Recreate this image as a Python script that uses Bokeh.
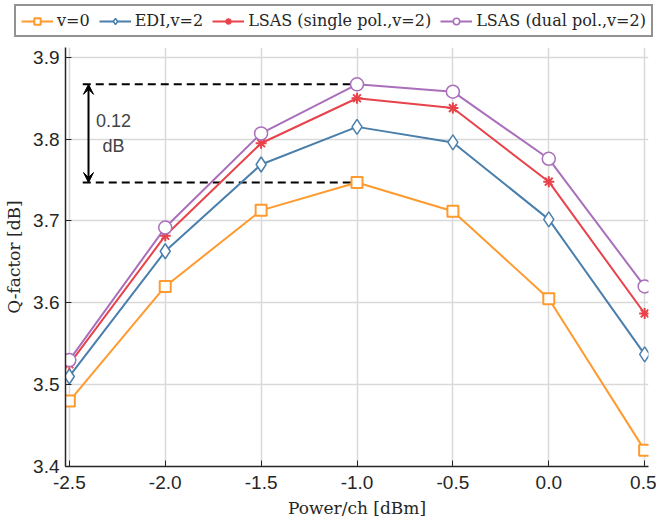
from bokeh.plotting import figure
from bokeh.layouts import column
from bokeh.models import Legend, LegendItem, Arrow, VeeHead, Range1d, FixedTicker, Label, CustomJSTickFormatter
from bokeh.embed import file_html
from bokeh.resources import INLINE

power = [-2.5, -2.0, -1.5, -1.0, -0.5, 0.0, 0.5]
q_v0 = [3.480, 3.620, 3.713, 3.747, 3.712, 3.605, 3.420]
q_edi = [3.510, 3.663, 3.769, 3.815, 3.796, 3.702, 3.537]
q_single = [3.525, 3.682, 3.795, 3.850, 3.838, 3.748, 3.587]
q_dual = [3.530, 3.692, 3.807, 3.867, 3.858, 3.776, 3.620]
x_ticks = [-2.5, -2.0, -1.5, -1.0, -0.5, 0.0, 0.5]
y_ticks = [3.4, 3.5, 3.6, 3.7, 3.8, 3.9]
labels = ["v=0", "EDI,v=2", "LSAS (single pol.,v=2)", "LSAS (dual pol.,v=2)"]

c_orange = "#ff9a2e"
c_blue = "#4a7fac"
c_red = "#e8424a"
c_purple = "#aa6fbb"

styles = [
    dict(series=q_v0, color=c_orange, marker="square", size=11, lw=2),
    dict(series=q_edi, color=c_blue, marker="diamond", size=15, lw=1.5),
    dict(series=q_single, color=c_red, marker="asterisk", size=11, lw=2),
    dict(series=q_dual, color=c_purple, marker="circle", size=13, lw=1.5),
]


def draw(fig):
    out = []
    for st in styles:
        ln = fig.line(power, st["series"], line_color=st["color"], line_width=2)
        mk = fig.scatter(power, st["series"], marker=st["marker"], size=st["size"],
                         line_color=st["color"], fill_color="white", line_width=st["lw"])
        out.append([ln, mk])
    return out


# main plot
p = figure(width=656, height=479, output_backend="svg", toolbar_location=None,
           x_range=Range1d(-2.52, 0.52), y_range=Range1d(3.4, 3.912),
           min_border_left=65, min_border_right=8, min_border_top=3, min_border_bottom=57)
p.outline_line_color = None
p.background_fill_color = "white"
p.frame_align = False

for ax in (p.xaxis[0], p.yaxis[0]):
    ax.axis_line_color = "#262626"
    ax.axis_line_width = 1.5
    ax.major_tick_in = 6
    ax.major_tick_out = 0
    ax.minor_tick_line_color = None
    ax.major_tick_line_color = "#262626"
    ax.major_label_text_font = "Liberation Sans"
    ax.major_label_text_font_size = "19px"
    ax.major_label_text_color = "#262626"
    ax.axis_label_text_font = "DejaVu Serif"
    ax.axis_label_text_font_size = "17px"
    ax.axis_label_text_font_style = "normal"
    ax.axis_label_text_color = "#262626"

p.xaxis.ticker = FixedTicker(ticks=x_ticks)
p.yaxis.ticker = FixedTicker(ticks=y_ticks)
p.xaxis.formatter = CustomJSTickFormatter(code="return tick.toFixed(1);")
p.yaxis.formatter = CustomJSTickFormatter(code="return tick.toFixed(1);")
p.xaxis.axis_label = "Power/ch [dBm]"
p.yaxis.axis_label = "Q-factor [dB]"
p.xaxis.major_label_standoff = 9
p.yaxis.major_label_standoff = 6
p.xaxis.axis_label_standoff = 6
p.yaxis.axis_label_standoff = 6

p.xgrid.grid_line_color = "#d9d9d9"
p.ygrid.grid_line_color = "#d9d9d9"
p.xgrid.grid_line_width = 1.5
p.ygrid.grid_line_width = 1.5

# annotation dashed lines and arrow
i_peak = power.index(-1.0)
top = q_dual[i_peak]
bot = q_v0[i_peak]
p.segment(x0=[-2.43, -2.43], y0=[top, bot], x1=[power[i_peak]] * 2, y1=[top, bot],
          line_color="black", line_width=2, line_dash="8 5")
p.add_layout(Arrow(start=VeeHead(size=10, line_color="black", fill_color="black"),
                   end=VeeHead(size=10, line_color="black", fill_color="black"),
                   x_start=-2.4, y_start=bot, x_end=-2.4, y_end=top,
                   line_color="black", line_width=2))
p.add_layout(Label(x=-2.27, y=3.823, text="0.12", text_align="center",
                   text_baseline="middle", text_font="Liberation Sans", text_font_size="18px"))
p.add_layout(Label(x=-2.27, y=3.792, text="dB", text_align="center",
                   text_baseline="middle", text_font="Liberation Sans", text_font_size="18px"))

draw(p)

# legend strip above the plot (its own frame, not aligned with the main plot)
lf = figure(width=656, height=44, output_backend="svg", toolbar_location=None,
            x_range=Range1d(0, 1), y_range=Range1d(0, 1),
            x_axis_type=None, y_axis_type=None,
            min_border_left=0, min_border_right=0, min_border_top=0, min_border_bottom=0)
lf.outline_line_color = None
lf.xgrid.visible = False
lf.ygrid.visible = False
lf.frame_align = False
rends = draw(lf)

legend = Legend(items=[LegendItem(label=lab, renderers=r) for lab, r in zip(labels, rends)],
                orientation="horizontal", location=(14, 7))
legend.label_text_font = "DejaVu Serif"
legend.label_text_font_size = "16px"
legend.label_text_color = "#262626"
legend.glyph_width = 32
legend.glyph_height = 16
legend.label_standoff = 4
legend.spacing = 9
legend.padding = 5
legend.margin = 0
legend.border_line_color = "#262626"
legend.border_line_width = 2
legend.background_fill_alpha = 1
lf.add_layout(legend, "center")

open("out.html", "w").write(file_html(column(lf, p, spacing=0), INLINE))
